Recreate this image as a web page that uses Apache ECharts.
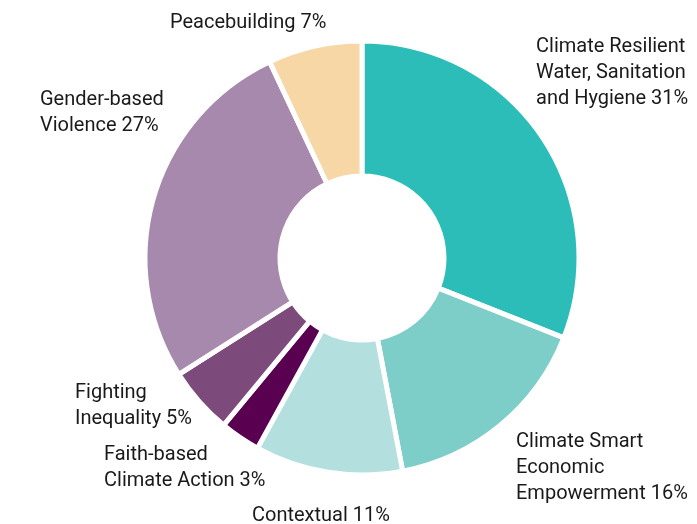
<!DOCTYPE html>
<html>
<head>
<meta charset="utf-8">
<script src="https://cdn.jsdelivr.net/npm/echarts@6/dist/echarts.min.js"></script>
<style>
  html, body { margin: 0; padding: 0; background: #fff; }
  #chart { width: 697px; height: 524px; }
</style>
</head>
<body>
<div id="chart"></div>
<script>
// Funding share by theme (%)
const categories = [
  'Climate Resilient\nWater, Sanitation\nand Hygiene',
  'Climate Smart\nEconomic\nEmpowerment',
  'Contextual',
  'Faith-based\nClimate Action',
  'Fighting\nInequality',
  'Gender-based\nViolence',
  'Peacebuilding'
];
const shares = [31, 16, 11, 3, 5, 27, 7];
const colors = ['#2dbdb9', '#7dcdc9', '#b3e0df', '#5a0050', '#7c4a7b', '#a889ae', '#f8d7a6'];

// label anchor (left edge, vertical middle) for each slice
const labelPos = [
  [536, 73], [516, 468], [252, 516], [104, 468], [75, 406], [40, 113], [170, 23]
];

const el = document.getElementById('chart');
const inst = echarts.init(el, null, { renderer: 'canvas' });
inst.setOption({
  animation: false,
  series: [{
    type: 'pie',
    center: [362, 258],
    radius: [82, 217],
    startAngle: 90,
    clockwise: true,
    itemStyle: { borderColor: '#fff', borderWidth: 5 },
    label: {
      show: true,
      position: 'outside',
      formatter: p => p.name + ' ' + p.value + '%',
      fontFamily: 'Roboto',
      fontSize: 20,
      lineHeight: 26,
      color: '#1a1a1a',
      overflow: 'none'
    },
    labelLine: { show: false },
    labelLayout: p => ({
      x: labelPos[p.dataIndex][0],
      y: labelPos[p.dataIndex][1],
      align: 'left',
      verticalAlign: 'middle',
      hideOverlap: false
    }),
    data: categories.map((c, i) => ({
      name: c, value: shares[i], itemStyle: { color: colors[i] }
    }))
  }]
});
</script>
</body>
</html>
